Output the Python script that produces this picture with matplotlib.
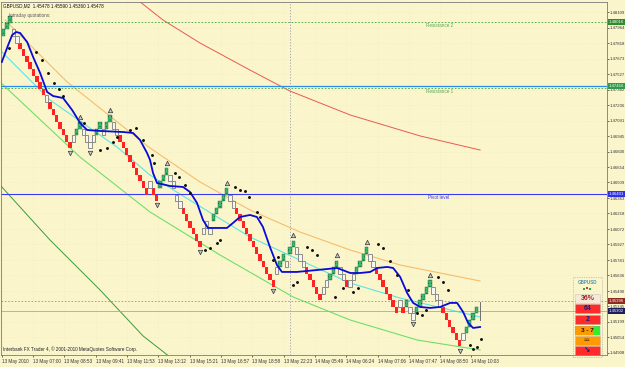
import matplotlib
matplotlib.use('Agg')
import matplotlib.pyplot as plt
from matplotlib.patches import Rectangle

plt.rcParams['font.family'] = ['Liberation Sans', 'DejaVu Sans']
plt.rcParams['hatch.linewidth'] = 0.4

# ---- text on the chart ----
header = 'GBPUSD,M2  1.45478 1.45590 1.45360 1.45478'
footer = 'Interbank FX Trader 4, \u00a9 2001-2010 MetaQuotes Software Corp.'

# ---- renko bricks: bottom level of each brick, kind g=up r=down n=neutral ----
LOW = 1.44908
BRICK = 0.00062
brick_level = [48, 49, 50, 48, 47, 46, 45, 44, 43, 42,
               41, 40, 39, 38, 37, 36, 35, 34, 33, 32,
               31, 32, 33, 34, 33, 32, 31, 32, 33, 34,
               33, 34, 35, 34, 33, 32, 31, 30, 29, 28,
               27, 26, 25, 24, 25, 24, 23, 25, 26, 27,
               26, 25, 23, 22, 21, 20, 19, 18, 17, 16,
               18, 19, 18, 20, 21, 22, 23, 24, 23, 22,
               21, 20, 19, 18, 17, 16, 15, 14, 13, 12,
               11, 10, 12, 13, 14, 13, 15, 16, 15, 14,
               13, 12, 11, 10, 9, 8, 9, 10, 11, 12,
               13, 12, 11, 10, 10, 11, 12, 13, 14, 15,
               14, 13, 12, 11, 10, 9, 8, 7, 6, 7,
               6, 7, 6, 5, 6, 7, 8, 9, 10, 9,
               8, 7, 6, 5, 4, 3, 2, 1, 2, 3,
               4, 5, 6]
brick_kind = ('gggnnrrrrr' 'rrrnrrrrrr' 'rnggnnnngg' 'nggnnrrrrr' 'rrrrnrrggg'
              'nnnnrrrrrr' 'nnngggggnn' 'rrrrrrrrrr' 'rrnggnggnn' 'nrrrrrnngg'
              'gnnrnngggg' 'nnrrrrrrrn' 'rgnngggggn' 'nnrrrrrrng' 'ggg')
last_bar = 143
last_hi, last_lo = 1.45387, 1.45218

peaks = [23, 32, 49, 67, 87, 100, 109, 128]
troughs = [20, 26, 46, 59, 81, 123, 137]

# ---- smoothed average (blue) ----
ma_x = [-0.5, 1.4, 2.6, 3.8, 5.0, 7.1, 8.9, 11.0, 13.1, 14.9, 17.9, 20.6, 23.0, 25.1,
        29.0, 35.9, 38.9, 41.0, 43.1, 44.0, 44.9, 46.1, 50.0, 53.9, 56.0, 58.1, 59.9,
        61.4, 67.1, 68.9, 71.0, 74.0, 76.1, 77.9, 80.0, 82.1, 83.6, 88.1, 94.1, 100.2,
        104.1, 107.1, 110.1, 112.2, 115.2, 117.0, 119.1, 121.2, 123.0, 125.1, 128.1,
        131.1, 134.1, 136.2, 138.0, 139.5, 141.0, 143.1]
ma_y = [1.47641, 1.47800, 1.47894, 1.47922, 1.47913, 1.47828, 1.47687, 1.47537, 1.47359,
        1.47321, 1.47302, 1.47190, 1.47068, 1.47002, 1.46993, 1.46983, 1.46974, 1.46908,
        1.46786, 1.46720, 1.46598, 1.46504, 1.46476, 1.46467, 1.46420, 1.46317, 1.46157,
        1.46082, 1.46082, 1.46129, 1.46185, 1.46204, 1.46185, 1.46091, 1.45903, 1.45734,
        1.45669, 1.45669, 1.45687, 1.45706, 1.45659, 1.45659, 1.45669, 1.45706, 1.45716,
        1.45706, 1.45622, 1.45471, 1.45378, 1.45340, 1.45331, 1.45340, 1.45378, 1.45378,
        1.45293, 1.45190, 1.45143, 1.45152]

# ---- regression channel lines ----
red_x = [39.5, 47.9, 59.0, 74.0, 86.0, 104.1, 125.1, 143.1]
red_y = [1.48242, 1.48035, 1.47819, 1.47565, 1.47368, 1.47143, 1.46946, 1.46814]
orange_x = [0.45, 19.1, 44.0, 59.0, 74.0, 89.0, 104.1, 119.1, 143.1]
orange_y = [1.48035, 1.47453, 1.46833, 1.46514, 1.46251, 1.46044, 1.45875, 1.45734, 1.45584]
cyan_x = [-1.05, 13.96, 34.08, 43.99, 53.9, 74.02, 94.14, 104.05, 119.07, 143.09]
cyan_y = [1.47753, 1.47284, 1.46842, 1.46579, 1.46382, 1.45997, 1.45706, 1.45565, 1.45424, 1.45246]
lgreen_x = [-1.05, 22.97, 43.99, 65.02, 86.94, 104.05, 124.17, 143.09]
lgreen_y = [1.47453, 1.46748, 1.46232, 1.45828, 1.45434, 1.45218, 1.45030, 1.44936]
dgreen_x = [-1.05, 13.96, 28.98, 41.89, 50.0]
dgreen_y = [1.46486, 1.45969, 1.45500, 1.45068, 1.44870]

# ---- SAR-like dots ----
dot_x = [1.65, 9.76, 11.56, 13.36, 15.17, 16.67, 17.87, 24.17, 28.98, 31.08, 32.88, 34.08,
         37.99, 39.79, 41.89, 44.59, 45.2, 51.5, 52.7, 54.5, 56.0, 60.5, 62.0, 64.1, 65.0,
         69.5, 71.0, 72.5, 73.7, 76.1, 77.0, 80.9, 82.4, 86.9, 88.1, 91.1, 92.6, 94.1,
         99.5, 102.0, 104.9, 106.5, 112.5, 114.0, 116.1, 118.2, 121.5, 124.2, 125.7,
         126.9, 130.5, 132.0, 133.5, 140.1, 141.0, 142.2, 143.4]
dot_y = [1.47772, 1.47734, 1.47659, 1.47537, 1.47443, 1.47387, 1.47321, 1.47068, 1.46814,
         1.46833, 1.46889, 1.46936, 1.47002, 1.47021, 1.46908, 1.46767, 1.46692, 1.46598,
         1.46561, 1.46486, 1.46410, 1.45875, 1.45894, 1.45941, 1.45969, 1.46467, 1.46439,
         1.46429, 1.46373, 1.46232, 1.46185, 1.45781, 1.45809, 1.45547, 1.45575, 1.45903,
         1.45875, 1.45828, 1.45434, 1.45518, 1.45481, 1.45518, 1.45932, 1.45894, 1.45772,
         1.45640, 1.45500, 1.45284, 1.45265, 1.45312, 1.45622, 1.45575, 1.45500, 1.44983,
         1.44946, 1.44964, 1.45040]

# ---- horizontal levels ----
resist2 = 1.48016
resist1 = 1.47397
resist1_blue = 1.47416
pivot = 1.46401
ask_line = 1.45396
bid_line = 1.45302
day_sep = 86

# ---- axes labels ----
price_ticks = [1.44908, 1.45054, 1.45199, 1.45345, 1.45490, 1.45636, 1.45781, 1.45927,
               1.46072, 1.46218, 1.46363, 1.46509, 1.46654, 1.46800, 1.46945, 1.47091,
               1.47236, 1.47382, 1.47527, 1.47673, 1.47818, 1.47964, 1.48109]
time_pos = [-0.5, 8.9, 18.3, 27.7, 37.1, 46.5, 55.9, 65.3, 74.7, 84.1, 93.5, 102.9,
            112.3, 121.7, 131.1, 140.5]
time_labels = ['13 May 2010', '13 May 07:00', '13 May 08:53', '13 May 09:41',
               '13 May 11:53', '13 May 13:12', '13 May 15:21', '13 May 16:57',
               '13 May 18:58', '13 May 22:23', '14 May 05:49', '14 May 06:24',
               '14 May 07:06', '14 May 07:47', '14 May 08:50', '14 May 10:03']

# ---- info widget ----
widget_title = 'GBPUSD'
widget_pct = '36%'
widget_a = '64'
widget_b = '2'
widget_range = '3 - 7'

BG = '#FBF5CC'
FS = 3.3
FS_AX = 3.05

fig = plt.figure(figsize=(6.25, 3.67), dpi=100, facecolor=BG)
ax = fig.add_axes([1 / 625, 12 / 367, 606 / 625, 353 / 367], facecolor=BG)
ax.set_xlim(-0.75, 181.2)
ax.set_ylim(1.44889, 1.48204)

# faint dotted grid
for p in price_ticks:
    ax.axhline(p, color='#E6DCAA', lw=0.4, ls=(0, (1, 4)), zorder=0)
for t in time_pos:
    ax.axvline(t, color='#E6DCAA', lw=0.4, ls=(0, (1, 4)), zorder=0)

# day separator
ax.axvline(day_sep, color='#9C9CAE', lw=0.6, ls=(0, (1.5, 2)), zorder=1)

# channel
ax.plot(red_x, red_y, color='#E85A4F', lw=0.7, zorder=2)
ax.plot(orange_x, orange_y, color='#F6BE6A', lw=0.8, zorder=2)
ax.plot(cyan_x, cyan_y, color='#5EE4E0', lw=0.8, zorder=2)
ax.plot(lgreen_x, lgreen_y, color='#6EE06A', lw=0.8, zorder=2)
ax.plot(dgreen_x, dgreen_y, color='#3C9A3C', lw=0.7, zorder=2)

# horizontal levels
ax.axhline(resist2, color='#3FA63F', lw=0.6, ls=(0, (2, 2)), zorder=2)
ax.axhline(resist1_blue, color='#2A8CF0', lw=0.9, zorder=2)
ax.axhline(resist1, color='#3FA63F', lw=0.6, ls=(0, (2, 2)), zorder=2)
ax.axhline(pivot, color='#3A3AF5', lw=0.8, zorder=2)
ax.axhline(ask_line, color='#E07A6A', lw=0.6, ls=(0, (2, 2)), zorder=2)
ax.axhline(bid_line, color='#A8A8A8', lw=0.6, zorder=2)
ax.text(127, resist2 - 0.00012, 'Resistance 2', color='#58A858', fontsize=FS, va='top', zorder=6)
ax.text(127, resist1 - 0.00012, 'Resistance 1', color='#58A858', fontsize=FS, va='top', zorder=6)
ax.text(127.5, pivot - 0.00012, 'Pivot level', color='#3A3AF5', fontsize=FS, va='top', zorder=6)

# bricks
styles = {
    'r': dict(color='#FF2323', lw=0),
    'g': dict(facecolor='#3DB870', edgecolor='#1C6A3C', hatch='.....', lw=0.3),
    'n': dict(facecolor='#F7F7F2', edgecolor='#7C7C7C', lw=0.6),
}
for kind, st in styles.items():
    xs = [i for i, k in enumerate(brick_kind) if k == kind]
    bots = [LOW + brick_level[i] * BRICK for i in xs]
    ax.bar(xs, BRICK, bottom=bots, width=1.02, zorder=3, **st)
ax.plot([last_bar, last_bar], [last_lo, last_hi], color='#707070', lw=0.7, zorder=3)

# smoothed average
ax.plot(ma_x, ma_y, color='#0A0AD8', lw=1.3, zorder=4, solid_joinstyle='round')

# dots
ax.plot(dot_x, dot_y, ls='none', marker='o', ms=1.1, color='#111111', zorder=5)

# fractal arrows
ax.plot(peaks, [LOW + (brick_level[i] + 1) * BRICK + 0.0005 for i in peaks], ls='none',
        marker='^', ms=3.2, mfc='#C8C8C8', mec='#303030', mew=0.5, zorder=5)
ax.plot(troughs, [LOW + brick_level[i] * BRICK - 0.0004 for i in troughs], ls='none',
        marker='v', ms=3.2, mfc='#C8C8C8', mec='#303030', mew=0.5, zorder=5)

# axes
for s in ax.spines.values():
    s.set_color('#7A7A7A')
    s.set_linewidth(0.6)
ax.yaxis.tick_right()
ax.set_yticks(price_ticks)
ax.set_yticklabels([f'{p:.5f}' for p in price_ticks])
ax.set_xticks(time_pos)
ax.set_xticklabels(time_labels)
for lab in ax.get_xticklabels():
    lab.set_ha('left')
ax.tick_params(axis='y', length=1.2, width=0.5, pad=0.5, labelsize=FS_AX, colors='#333333')
ax.tick_params(axis='x', length=1.5, width=0.5, pad=1.2, labelsize=FS, colors='#333333')

# price boxes on the right scale
boxes = [(resist2, '#2E8B2E'), (resist1_blue, '#2E9A4A'), (pivot, '#2F2FE8'),
         (ask_line, '#8E2A22'), (bid_line, '#1C1C5E')]
for p, fc in boxes:
    ax.text(1.0035, p, f'{p:.5f}', transform=ax.get_yaxis_transform(), fontsize=FS_AX,
            color='white', va='center', ha='left', zorder=10, clip_on=False,
            bbox=dict(boxstyle='square,pad=0.2', fc=fc, ec='none'))

# header / footer
fig.text(3 / 625, 1 - 6 / 367, header, fontsize=FS, color='#111111', va='center')
fig.text(9 / 625, 1 - 16 / 367, 'Intraday quotations:', fontsize=FS, color='#555555', va='center')
fig.text(3 / 625, 1 - 349 / 367, footer, fontsize=FS, color='#222222', va='center')


# widget
def fbox(x, y, w, h, **kw):
    fig.patches.append(Rectangle((x / 625, 1 - (y + h) / 367), w / 625, h / 367,
                                 transform=fig.transFigure, **kw))


def ftext(x, y, s, **kw):
    fig.text(x / 625, 1 - y / 367, s, ha='center', va='center', **kw)


fbox(573, 277, 29, 80, fill=False, ec='#9A9A9A', lw=0.5, ls=(0, (1, 1.5)))
ftext(587.5, 282, widget_title, fontsize=FS, color='#4E94AC', weight='bold')
fbox(583, 288, 2, 1.6, fc='#2EA84A', ec='none')
fbox(586, 287, 2, 1.6, fc='#D43A2A', ec='none')
fbox(589, 288, 2, 1.6, fc='#2EA84A', ec='none')
fbox(575, 294, 25, 9, fc='#F7E9D6', ec='#A0A0A0', lw=0.4, ls=(0, (1, 1)))
ftext(587.5, 298.7, widget_pct, fontsize=5, color='#A52222', weight='bold')
fbox(575, 304, 25, 9, fc='#FF2A2A', ec='#A0A0A0', lw=0.4, ls=(0, (1, 1)))
ftext(587.5, 308.7, widget_a, fontsize=5, color='#1A1A78', weight='bold')
fbox(575, 315, 25, 9, fc='#FF2A2A', ec='#A0A0A0', lw=0.4, ls=(0, (1, 1)))
ftext(587.5, 319.7, widget_b, fontsize=5, color='#1A1A78', weight='bold')
fbox(575, 326, 18, 9, fc='#FF9A00', ec='none')
fbox(593, 326, 7, 9, fc='#2EF02E', ec='none')
fbox(575, 326, 25, 9, fill=False, ec='#A0A0A0', lw=0.4, ls=(0, (1, 1)))
ftext(587.5, 330.7, widget_range, fontsize=4.6, color='#111111', weight='bold')
fbox(575, 336, 25, 9, fc='#FF9A00', ec='#A0A0A0', lw=0.4, ls=(0, (1, 1)))
ftext(587.5, 340.5, '\u2248\u2248', fontsize=4.2, color='#6A3A00', weight='bold')
fbox(575, 346, 25, 9, fc='#FF2A2A', ec='#A0A0A0', lw=0.4, ls=(0, (1, 1)))
ftext(587.5, 350.5, '\u2198', fontsize=5.5, color='#1A1A78', weight='bold')

fig.savefig('out.png', dpi=100, facecolor=BG)
